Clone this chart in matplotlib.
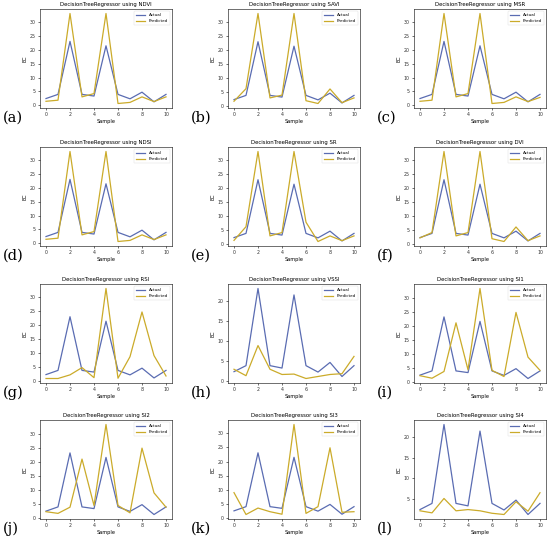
import matplotlib
matplotlib.use("Agg")
import matplotlib.pyplot as plt
import numpy as np

# ── Data ──────────────────────────────────────────────────────────────────────
samples = np.arange(11)
actual = [2.4, 3.9, 23.1, 3.9, 3.3, 21.5, 3.9, 2.3, 4.7, 1.2, 3.9]

indices = ["NDVI", "SAVI", "MSR", "NDSI", "SR", "DVI",
           "RSI", "VSSI", "SI1", "SI2", "SI3", "SI4"]
panel_tags = ["(a)", "(b)", "(c)", "(d)", "(e)", "(f)",
              "(g)", "(h)", "(i)", "(j)", "(k)", "(l)"]

pred_ndvi = [1.4, 1.8, 33.2, 3.0, 4.2, 33.2, 0.6, 1.0, 3.0, 1.3, 3.0]
pred_savi = [1.8, 6.3, 33.2, 3.0, 4.0, 33.2, 2.0, 1.0, 6.2, 1.3, 3.0]
pred_msr  = [1.4, 1.8, 33.2, 3.0, 4.2, 33.2, 0.6, 1.0, 3.0, 1.3, 2.8]
pred_ndsi = [1.4, 1.8, 33.2, 3.0, 4.2, 33.2, 0.6, 1.0, 3.0, 1.3, 3.0]
pred_sr   = [1.4, 6.3, 33.2, 3.0, 4.2, 33.2, 7.9, 1.0, 3.0, 1.3, 3.0]
pred_dvi  = [2.3, 4.2, 33.2, 3.0, 4.2, 33.2, 2.0, 1.0, 6.2, 1.3, 3.0]
pred_rsi  = [1.0, 1.0, 2.3, 4.9, 1.3, 33.2, 1.1, 8.8, 24.8, 9.2, 1.9]
pred_vssi = [3.0, 1.4, 8.9, 3.0, 1.7, 1.8, 0.7, 1.2, 1.7, 1.9, 6.2]
pred_si1  = [2.2, 1.3, 3.7, 21.0, 4.3, 33.2, 4.1, 1.9, 24.7, 8.8, 4.1]
pred_si2  = [2.2, 1.6, 3.8, 20.9, 4.4, 33.2, 4.4, 1.8, 24.8, 8.9, 3.8]
pred_si3  = [8.9, 1.1, 3.4, 2.1, 1.2, 33.2, 1.5, 3.9, 24.9, 1.9, 2.1]
pred_si4  = [2.1, 1.6, 5.1, 2.1, 2.4, 2.1, 1.5, 1.2, 4.3, 2.0, 6.5]

predicted = [pred_ndvi, pred_savi, pred_msr, pred_ndsi, pred_sr, pred_dvi,
             pred_rsi, pred_vssi, pred_si1, pred_si2, pred_si3, pred_si4]

# ── Style ─────────────────────────────────────────────────────────────────────
C_ACT  = "#5a6cb2"
C_PRED = "#cbab2a"
W, H = 550, 542

col_left = [40, 228, 414]
row_top  = [9, 147, 284, 420]
ax_w, ax_h = 132, 99

fig = plt.figure(figsize=(W / 100, H / 100), dpi=100)

for i, (name, tag, pred) in enumerate(zip(indices, panel_tags, predicted)):
    r, c = divmod(i, 3)
    x0, y0 = col_left[c], row_top[r]
    ax = fig.add_axes([x0 / W, 1 - (y0 + ax_h) / H, ax_w / W, ax_h / H])
    ax.plot(samples, actual, color=C_ACT, lw=0.9, label="Actual")
    ax.plot(samples, pred, color=C_PRED, lw=0.9, label="Predicted")
    ax.set_xticks([0, 2, 4, 6, 8, 10])
    ax.tick_params(labelsize=3.4, length=1.5, width=0.4, pad=1.5, labelcolor="#333333")
    for sp in ax.spines.values():
        sp.set_linewidth(0.4)
    ax.set_title(f"DecisionTreeRegressor using {name}", fontsize=3.9, pad=2)
    ax.set_xlabel("Sample", fontsize=3.6, labelpad=1.5)
    ax.set_ylabel("EC", fontsize=3.6, labelpad=1.5)
    leg = ax.legend(loc="upper right", fontsize=3.0, frameon=True, edgecolor="#dddddd",
                    handlelength=2.2, borderpad=0.5, framealpha=1, fancybox=True)
    leg.get_frame().set_linewidth(0.3)
    fig.text((x0 - 37) / W, 1 - (y0 + 109) / H, tag, fontsize=10.5,
             family="DejaVu Serif", va="center", ha="left")

fig.savefig("out.png", dpi=100, facecolor="white")
